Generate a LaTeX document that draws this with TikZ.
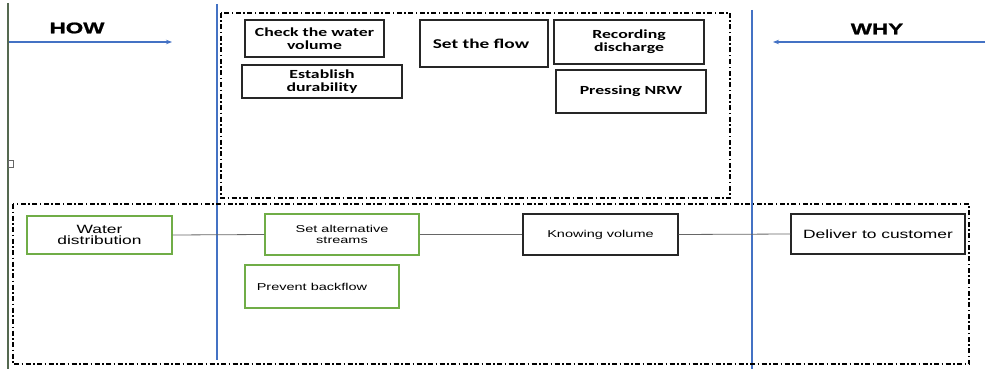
\documentclass[tikz,border=0pt]{standalone}
\usepackage{fontspec}
\usetikzlibrary{arrows.meta}
\newfontfamily\wsans[FakeStretch=1.45]{Liberation Sans}
\newfontfamily\wsansb[FakeStretch=1.45,FakeBold=1.2]{Liberation Sans Bold}
\newfontfamily\wcal[FakeStretch=1.43]{Carlito Bold}
\definecolor{blueln}{RGB}{68,114,196}
\definecolor{greenbx}{RGB}{112,173,71}
\definecolor{leftln}{RGB}{85,105,80}
\tikzset{
  topbox/.style={draw=black!85, line width=1.3pt, align=center, inner sep=0pt, font=\wcal\fontsize{12.4}{12.6}\selectfont},
  gbox/.style={draw=greenbx, line width=1.3pt, align=center, inner sep=0pt, font=\wsans\fontsize{10}{11}\selectfont},
  kbox/.style={draw=black!85, line width=1.3pt, align=center, inner sep=0pt, font=\wsans\fontsize{10}{11}\selectfont},
  grp/.style={draw=black, line width=1.1pt, dash pattern=on 5pt off 2.5pt on 1.5pt off 2.5pt},
  conn/.style={draw=black!60, line width=0.8pt},
  bline/.style={draw=blueln, line width=2pt},
  barrow/.style={draw=blueln, line width=1.3pt, -{Stealth[length=6pt,width=4.5pt]}},
  title/.style={font=\wsansb\fontsize{15.5}{16}\selectfont}
}
\begin{document}
\begin{tikzpicture}[x=1pt,y=-1pt]
\useasboundingbox (0,0) rectangle (988,369);
% left vertical line with tab
\draw[leftln, line width=2.2pt] (8,3) -- (8,369);
\draw[black!60, fill=white, line width=0.6pt] (8,160) rectangle (13,167);
% blue vertical lines
\coordinate (b1t) at (217,4); \coordinate (b1b) at (217,360);
\coordinate (b2t) at (752,10); \coordinate (b2b) at (752,369);
\draw[bline] (b1t) -- (b1b);
\draw[bline] (b2t) -- (b2b);
% HOW / WHY
\node[title] (how) at (77,28) {HOW};
\node[title] (why) at (877,29) {WHY};
\coordinate (hs) at (9,42); \coordinate (he) at (172,42);
\coordinate (ws) at (985,42); \coordinate (we) at (773,42);
\draw[barrow] (hs) -- (he);
\draw[barrow] (ws) -- (we);
% groups
\draw[grp] (221,13) rectangle (730,198);
\draw[grp] (13,204) rectangle (969,364);
% top boxes
\node[topbox, minimum width=139pt, minimum height=37pt] (check) at (314.5,38.5) {Check the water\\volume};
\node[topbox, minimum width=160pt, minimum height=33pt] (estab) at (322,81.5) {Establish\\durability};
\node[topbox, minimum width=128pt, minimum height=47pt, font=\wcal\fontsize{13.5}{14}\selectfont] (flow) at (484,43.5) {\hspace*{-6pt}Set the flow};
\node[topbox, minimum width=150pt, minimum height=44pt] (rec) at (629,42) {Recording\\discharge};
\node[topbox, minimum width=150pt, minimum height=43pt] (nrw) at (631,91.5) {Pressing NRW};
% bottom boxes
\node[gbox, minimum width=145pt, minimum height=38pt, font=\wsans\fontsize{12}{11.5}\selectfont] (water) at (99.5,235) {Water\\distribution};
\node[gbox, minimum width=154pt, minimum height=41pt] (alt) at (342,234.5) {Set alternative\\streams};
\node[gbox, minimum width=154pt, minimum height=43pt] (back) at (322,286.5) {Prevent backflow\hspace*{20pt}};
\node[kbox, minimum width=155pt, minimum height=41pt] (know) at (600.5,234.5) {Knowing volume};
\node[kbox, minimum width=174pt, minimum height=40pt, font=\wsans\fontsize{12}{13}\selectfont] (deliver) at (878,234) {Deliver to customer};
% connectors
\draw[conn] (water.east) -- (alt.west);
\draw[conn] (alt.east) -- (know.west);
\draw[conn] (know.east) -- (deliver.west);
\end{tikzpicture}
\end{document}
